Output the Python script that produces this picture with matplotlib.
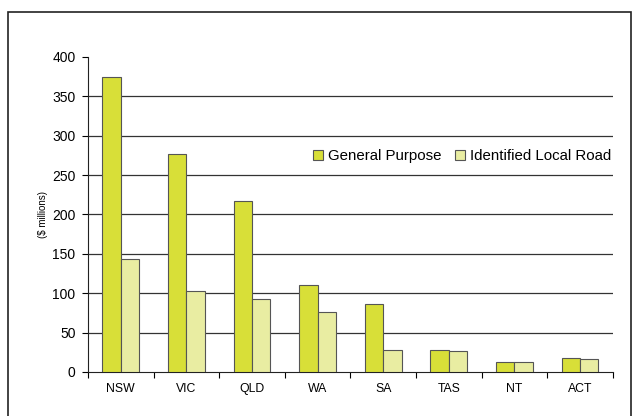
import numpy as np
import matplotlib.pyplot as plt
from matplotlib.patches import Rectangle
from matplotlib.ticker import FixedLocator, NullFormatter

plt.rcParams['font.family'] = ['Liberation Sans', 'DejaVu Sans']

states = ['NSW', 'VIC', 'QLD', 'WA', 'SA', 'TAS', 'NT', 'ACT']
general_purpose = [374, 277, 217, 111, 86, 27.5, 12, 18]
local_road = [144, 103, 93, 76, 28, 26, 12, 17]

fig = plt.figure(figsize=(6.33, 4.16), dpi=100)
ax = fig.add_axes([0.139, 0.106, 0.829, 0.757])

# outer frame round the chart
fig.patches.append(Rectangle((0.012, -0.05), 0.985, 1.02, transform=fig.transFigure,
                             fill=False, edgecolor='#222222', linewidth=1.2))

x = np.arange(len(states))
w = 0.28
ax.bar(x - w / 2, general_purpose, w, color='#D8DF38', edgecolor='#555555',
       linewidth=0.8, label='General Purpose', zorder=3)
ax.bar(x + w / 2, local_road, w, color='#E9EDA2', edgecolor='#555555',
       linewidth=0.8, label='Identified Local Road', zorder=3)

ax.set_xlim(-0.5, len(states) - 0.5)
ax.set_ylim(0, 400)
ax.set_yticks(range(0, 401, 50))
for v in range(50, 400, 50):
    ax.axhline(v, color='#333333', linewidth=0.9, zorder=1)

ax.xaxis.set_major_locator(FixedLocator(np.arange(-0.5, len(states), 1)))
ax.xaxis.set_major_formatter(NullFormatter())
ax.xaxis.set_minor_locator(FixedLocator(x))
ax.set_xticklabels(states, minor=True)
ax.tick_params(axis='x', which='minor', length=0, pad=8, labelsize=8.8)
ax.tick_params(axis='x', which='major', length=4, width=0.8, direction='out')
ax.tick_params(axis='y', length=4, width=0.8, labelsize=10, pad=5)

for s in ['top', 'right']:
    ax.spines[s].set_visible(False)
ax.spines['left'].set_color('#222222')
ax.spines['bottom'].set_color('#222222')

ax.set_ylabel('($ millions)', fontsize=7, labelpad=3)

fig.legend(loc='center right', bbox_to_anchor=(0.978, 0.625), ncol=2, frameon=False,
           fontsize=10.8, handlelength=0.65, handleheight=0.65, handletextpad=0.35,
           columnspacing=0.9, borderpad=0)

plt.savefig('out.png', dpi=100)
